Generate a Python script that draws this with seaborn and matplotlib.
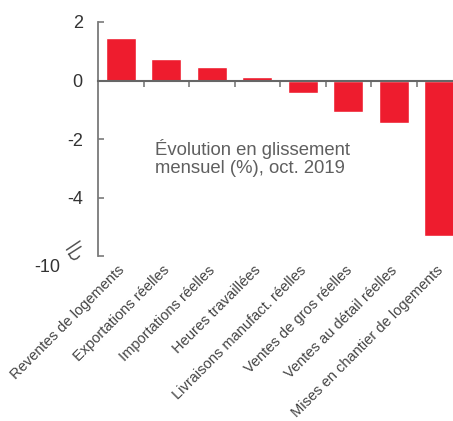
import matplotlib
matplotlib.use("Agg")
import matplotlib.pyplot as plt
import seaborn as sns
import pandas as pd
from matplotlib.lines import Line2D
from matplotlib.transforms import blended_transform_factory

# Monthly change by indicator, October 2019 (%)
categories = [
    "Reventes de logements",
    "Exportations réelles",
    "Importations réelles",
    "Heures travaillées",
    "Livraisons manufact. réelles",
    "Ventes de gros réelles",
    "Ventes au détail réelles",
    "Mises en chantier de logements",
]
values = [1.45, 0.72, 0.45, 0.12, -0.42, -1.07, -1.45, -5.3]

# Axis scale: the bottom of the axis is broken and labelled -10
ytick_values = [2, 0, -2, -4, -6]
ytick_labels = ["2", "0", "-2", "-4", ""]
break_label = "-10"
note = "Évolution en glissement\nmensuel (%), oct. 2019"

df = pd.DataFrame({"cat": categories, "val": values})

sns.set_theme(style="white")
plt.rcParams["font.family"] = ["Liberation Sans", "DejaVu Sans"]

W, H = 453, 421
fig = plt.figure(figsize=(W / 100, H / 100), dpi=100)
ax = fig.add_axes([98 / W, 1 - 256 / H, (W - 98) / W, (256 - 22) / H])

sns.barplot(data=df, x="cat", y="val", color="#EE1C2E", width=0.66,
            saturation=1, ax=ax)

grey = "#7a7a7a"
ax.set_ylim(-6, 2)
ax.set_xlim(-0.5, 7.3)
ax.set_xlabel("")
ax.set_ylabel("")

for s in ["top", "right"]:
    ax.spines[s].set_visible(False)
ax.spines["left"].set_color(grey)
ax.spines["left"].set_linewidth(1.3)
ax.spines["bottom"].set_position(("data", 0))
ax.spines["bottom"].set_color("#666666")
ax.spines["bottom"].set_linewidth(1.5)

ax.set_yticks(ytick_values)
ax.set_yticklabels(ytick_labels)
ax.tick_params(axis="y", direction="in", length=4, width=1.2, color=grey,
               pad=11, labelsize=13, labelcolor="#333333", left=True)

# category boundaries as small ticks under the zero line
ax.set_xticks([i + 0.5 for i in range(len(categories) - 1)])
ax.set_xticklabels([])
ax.tick_params(axis="x", direction="out", length=4, width=1.2, color=grey,
               bottom=True)

trans = blended_transform_factory(ax.transData, ax.transAxes)
for i, c in enumerate(categories):
    ax.text(i - 0.08, -0.03, c, transform=trans, rotation=45,
            rotation_mode="anchor", ha="right", va="top",
            fontsize=10.5, color="#444444")

ax.text(-0.5 - 38 / 45.5, -6.1, break_label, transform=ax.transData,
        fontsize=13, color="#333333", ha="right", va="top")

ax.text(0.16, 0.5, note, transform=ax.transAxes, fontsize=13.3,
        color="#5f5f5f", ha="left", va="top", linespacing=1.08)

# axis break marks
pix = lambda x, y: (x / W, 1 - y / H)
for (x0, y0), (x1, y1) in [((66.5, 250), (80, 241)), ((68.5, 254.5), (81, 246.5))]:
    fig.add_artist(Line2D([pix(x0, y0)[0], pix(x1, y1)[0]],
                          [pix(x0, y0)[1], pix(x1, y1)[1]],
                          color="#555555", lw=1.1))
arc_x = [69, 71, 74, 77, 79.5]
arc_y = [254, 258, 259.5, 258.5, 256]
fig.add_artist(Line2D([pix(x, 0)[0] for x in arc_x],
                      [pix(0, y)[1] for y in arc_y],
                      color="#555555", lw=1.1))

fig.savefig("out.png", dpi=100)
